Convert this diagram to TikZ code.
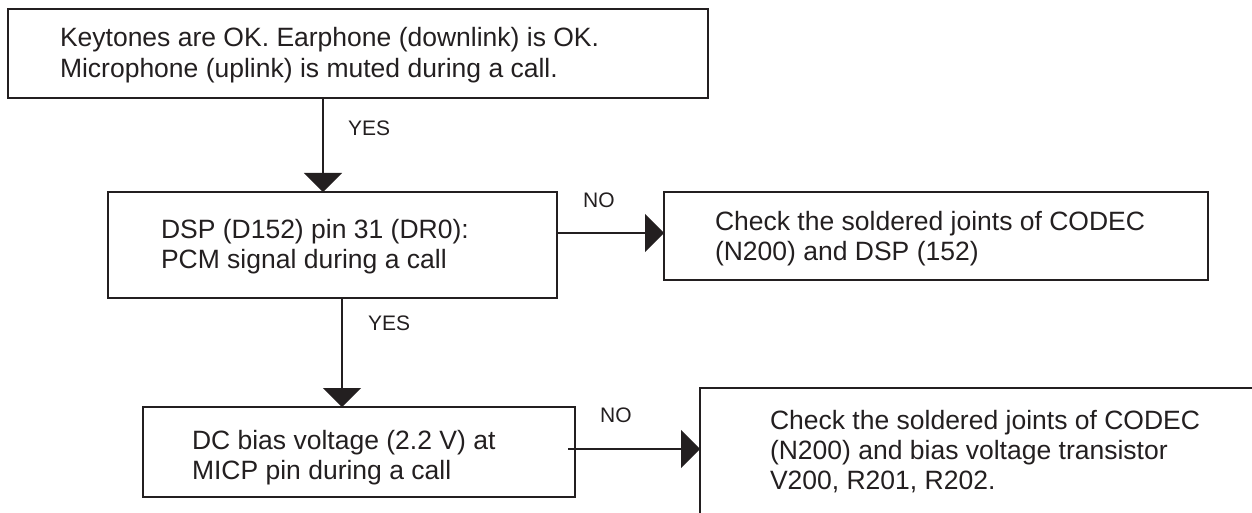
\documentclass[tikz,border=0pt]{standalone}
\usepackage{fontspec}
\setmainfont{Liberation Sans}
\usetikzlibrary{arrows.meta}
\definecolor{ink}{RGB}{35,31,32}
\newcommand\mylines[1]{\begin{tabular}[t]{@{}l@{}}#1\end{tabular}}
\begin{document}
\begin{tikzpicture}[x=1pt,y=-1pt,
  box/.style={draw=ink, line width=2.2pt, rectangle, inner sep=0pt, outer sep=0pt, anchor=north west},
  txt/.style={anchor=base west, inner sep=0pt, outer sep=0pt, text=ink, font=\fontsize{26.5}{30}\selectfont},
  lbl/.style={anchor=base west, inner sep=0pt, text=ink, font=\fontsize{21}{24}\selectfont},
  arr/.style={draw=ink, line width=2.2pt, -{Triangle[length=19pt,width=38pt]}}]
\useasboundingbox (0,0) rectangle (1252,513);
\clip (0,0) rectangle (1252,513);
% boxes
\node[box, minimum width=700pt, minimum height=89pt] (b1) at (8,9) {};
\node[box, minimum width=449pt, minimum height=106pt] (b2) at (108,192) {};
\node[box, minimum width=544pt, minimum height=88pt] (b3) at (664,192) {};
\node[box, minimum width=432pt, minimum height=90pt] (b4) at (143,407) {};
\node[box, minimum width=620pt, minimum height=200pt] (b5) at (700,388) {};
% texts
\node[txt, font=\fontsize{26.5}{31}\selectfont] (t1) at (60,47)
  {\mylines{Keytones are OK. Earphone (downlink) is OK.\\Microphone (uplink) is muted during a call.}};
\node[txt] (t2) at (161,238)
  {\mylines{DSP (D152) pin 31 (DR0):\\PCM signal during a call}};
\node[txt] (t3) at (715,230.5)
  {\mylines{Check the soldered joints of CODEC\\(N200) and DSP (152)}};
\node[txt] (t4) at (192,449)
  {\mylines{DC bias voltage (2.2 V) at\\MICP pin during a call}};
\node[txt] (t5) at (770,429)
  {\mylines{Check the soldered joints of CODEC\\(N200) and bias voltage transistor\\V200, R201, R202.}};
% labels
\node[lbl] (yes1) at (348,135.5) {YES};
\node[lbl] (no1) at (583,207.5) {NO};
\node[lbl] (yes2) at (368,330.5) {YES};
\node[lbl] (no2) at (600,422.5) {NO};
% connectors
\coordinate (x1) at (323,0);
\coordinate (y1) at (0,233);
\coordinate (x2) at (342,0);
\coordinate (s4) at (568,449);
\draw[arr] (b1.south -| x1) -- (b2.north -| x1);
\draw[arr] (b2.east |- y1) -- (b3.west |- y1);
\draw[arr] (b2.south -| x2) -- (b4.north -| x2);
\draw[arr] (s4) -- (b5.west |- s4);
\end{tikzpicture}
\end{document}
